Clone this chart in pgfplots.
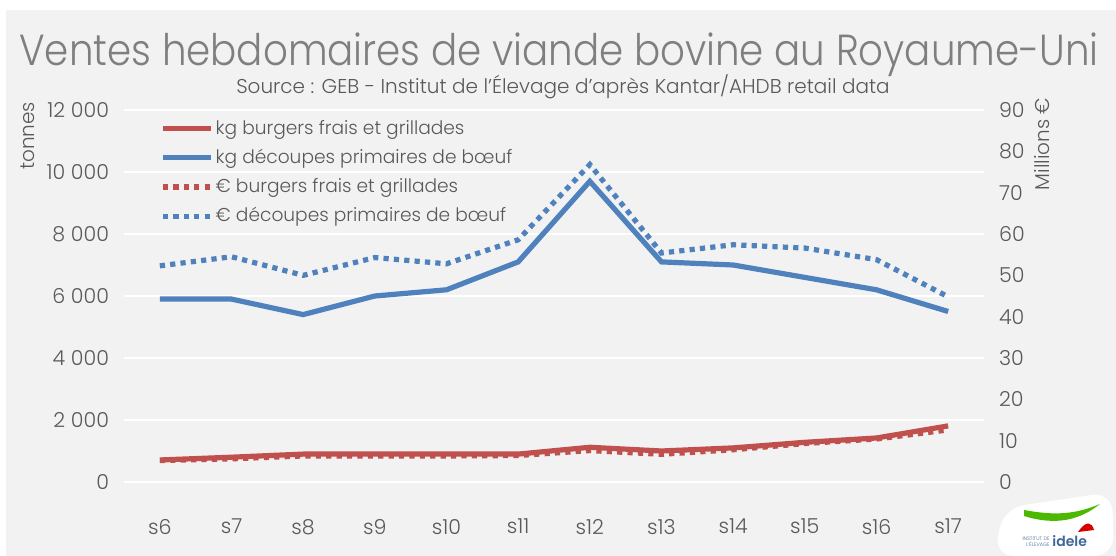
\documentclass[border=0pt]{standalone}
\usepackage{pgfplots}
\pgfplotsset{compat=1.18}
\usepackage{fontspec}
\setmainfont{Poppins}[UprightFont={* Light}]

\definecolor{bgcol}{HTML}{F2F2F2}
\definecolor{txtcol}{HTML}{595959}
\definecolor{titlecol}{HTML}{7F7F7F}
\definecolor{redser}{HTML}{C0504D}
\definecolor{blueser}{HTML}{4F81BD}

\begin{document}
\begin{tikzpicture}
% background panel
\fill[white] (0,0) rectangle (558bp,278bp);
\fill[bgcol] (3bp,0) rectangle (558bp,273bp);

% titles
\node[anchor=base, text=titlecol, yscale=1.12, font=\fontsize{19.4bp}{22bp}\selectfont] at (279.5bp,245bp)
  {Ventes hebdomaires de viande bovine au Royaume-Uni};
\node[anchor=base, text=txtcol, font=\fontsize{10bp}{12bp}\selectfont] at (281.5bp,231bp)
  {Source : GEB - Institut de l'Élevage d'après Kantar/AHDB retail data};

% left axis: tonnes
\begin{axis}[
  at={(62bp,37bp)}, anchor=south west,
  scale only axis, width=430bp, height=186bp,
  xmin=-0.5, xmax=11.5, ymin=0, ymax=12000,
  xtick={0,...,11},
  xticklabels={s6,s7,s8,s9,s10,s11,s12,s13,s14,s15,s16,s17},
  ytick={0,2000,...,12000},
  axis line style={draw=none}, major tick length=0pt,
  ymajorgrids, grid style={white, line width=0.7bp},
  ticklabel style={text=txtcol, font=\fontsize{10.3bp}{12bp}\selectfont},
  xticklabel style={yshift=-15bp},
  yticklabel style={xshift=-4bp},
  /pgf/number format/.cd, 1000 sep={\ }, assume math mode=true,
  /pgfplots/.cd,
  scaled y ticks=false,
  legend style={draw=none, fill=none, at={(0.035,0.99)}, anchor=north west,
    font=\fontsize{9.3bp}{11bp}\selectfont, text=txtcol,
    row sep=4bp, nodes={inner sep=1bp}},
  legend cell align=left,
  legend image code/.code={\draw[#1] (0bp,0bp) -- (24bp,0bp);},
]
\addplot[redser, line width=2.6bp] coordinates {
  (0,710) (1,800) (2,900) (3,900) (4,900) (5,900)
  (6,1120) (7,1000) (8,1100) (9,1280) (10,1420) (11,1810)};
\addlegendentry{kg burgers frais et grillades}
\addplot[blueser, line width=2.6bp] coordinates {
  (0,5900) (1,5900) (2,5400) (3,6000) (4,6200) (5,7100)
  (6,9700) (7,7100) (8,7000) (9,6600) (10,6200) (11,5500)};
\addlegendentry{kg découpes primaires de bœuf}
\addlegendimage{redser, line width=2.6bp, dash pattern=on 2.6bp off 2.6bp}
\addlegendentry{€ burgers frais et grillades}
\addlegendimage{blueser, line width=2.6bp, dash pattern=on 2.6bp off 2.6bp}
\addlegendentry{€ découpes primaires de bœuf}
\end{axis}

% right axis: millions of euros
\begin{axis}[
  at={(62bp,37bp)}, anchor=south west,
  scale only axis, width=430bp, height=186bp,
  xmin=-0.5, xmax=11.5, ymin=0, ymax=90,
  axis x line=none, axis y line*=right,
  ytick={0,10,...,90},
  axis line style={draw=none}, major tick length=0pt,
  ticklabel style={text=txtcol, font=\fontsize{10.3bp}{12bp}\selectfont},
  yticklabel style={xshift=4bp},
  /pgf/number format/assume math mode=true,
]
\addplot[redser, line width=2.6bp, dash pattern=on 2.6bp off 2.6bp] coordinates {
  (0,5.2) (1,5.6) (2,6.3) (3,6.3) (4,6.3) (5,6.4)
  (6,7.6) (7,6.7) (8,7.8) (9,9.3) (10,10.4) (11,12.6)};
\addplot[blueser, line width=2.6bp, dash pattern=on 2.6bp off 2.6bp] coordinates {
  (0,52.3) (1,54.5) (2,50.0) (3,54.3) (4,52.8) (5,58.6)
  (6,76.8) (7,55.4) (8,57.4) (9,56.6) (10,53.8) (11,44.8)};
\end{axis}

% axis titles
\node[rotate=90, text=txtcol, font=\fontsize{10bp}{12bp}\selectfont] at (14bp,210bp) {tonnes};
\node[rotate=90, text=txtcol, font=\fontsize{10bp}{12bp}\selectfont] at (521bp,206bp) {Millions €};

% logo
\fill[white, rounded corners=10bp] (497bp,0bp) -- (502bp,24bp) -- (556bp,32bp) -- (557bp,0bp) -- cycle;
\fill[green!60!black!70!yellow] (512bp,20bp) .. controls (528bp,15bp) and (540bp,18bp) .. (550bp,26bp)
  .. controls (538bp,21bp) and (528bp,20bp) .. (512bp,23bp) -- cycle;
\fill[red!85!black] (539bp,12bp) .. controls (543bp,18bp) and (546bp,17bp) .. (547bp,13bp) -- cycle;
\node[anchor=base west, text=blueser!80!black, font=\bfseries\fontsize{7bp}{8bp}\selectfont, inner sep=0]
  at (526bp,5bp) {idele};
\node[anchor=base east, text=blueser!80!black, font=\fontsize{2.5bp}{3bp}\selectfont, inner sep=0, align=right]
  at (525bp,5bp) {INSTITUT DE\\L'ÉLEVAGE};
\end{tikzpicture}
\end{document}
